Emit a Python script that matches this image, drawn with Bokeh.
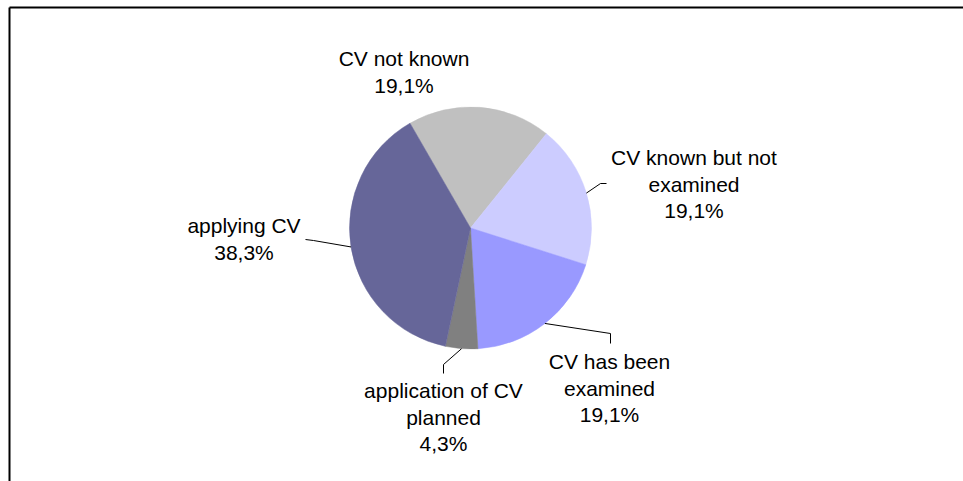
import math
from bokeh.plotting import figure
from bokeh.models import Range1d, ColumnDataSource
from bokeh.embed import file_html
from bokeh.resources import INLINE
from bokeh.core.properties import value

# ---- data ----
categories = ["CV not known", "CV known but not\nexamined", "CV has been\nexamined",
              "application of CV\nplanned", "applying CV"]
shares = [19.1, 19.1, 19.1, 4.3, 38.3]
colors = ["#C0C0C0", "#CCCCFF", "#9999FF", "#808080", "#666699"]

# ---- layout (screen pixels of the page) ----
PAGE_W, PAGE_H = 963, 481
cx, cy, R = 470.0, 227.5, 121.0
first_angle = -30.0  # degrees clockwise from 12 o'clock
label_pos = [(403.5, 58), (693.5, 157), (609, 361), (443, 390), (243.5, 225)]
leader_pts = [None, [(600, 183), (606, 183)], [(610, 333), (610, 343)],
              [(443, 364), (443, 373)], [(313, 240), (305, 239)]]
line_step = 26.5

def Y(y):
    return PAGE_H - y

p = figure(width=PAGE_W, height=PAGE_H, x_range=Range1d(0, PAGE_W), y_range=Range1d(0, PAGE_H),
           output_backend="svg", toolbar_location=None, min_border=0)
p.axis.visible = False
p.xgrid.visible = False
p.ygrid.visible = False
p.outline_line_color = None
p.background_fill_color = "white"
p.border_fill_color = "white"

total = sum(shares)
starts, ends, mids = [], [], []
acc = first_angle
for s in shares:
    a0 = acc
    a1 = acc + s / total * 360.0
    starts.append(math.radians(90 - a0))
    ends.append(math.radians(90 - a1))
    mids.append((a0 + a1) / 2)
    acc = a1

src = ColumnDataSource(dict(start=starts, end=ends, color=colors,
                            x=[cx] * len(shares), y=[Y(cy)] * len(shares)))
p.wedge(x="x", y="y", radius=R, start_angle="start", end_angle="end", direction="clock",
        fill_color="color", line_color="color", line_width=0.5, source=src)

# leader lines
for m, pts in zip(mids, leader_pts):
    if pts is None:
        continue
    sx = cx + R * math.sin(math.radians(m))
    sy = cy - R * math.cos(math.radians(m))
    xs = [sx] + [q[0] for q in pts]
    ys = [Y(sy)] + [Y(q[1]) for q in pts]
    p.line(xs, ys, line_color="#000000", line_width=1)

# labels
tx, ty, tt = [], [], []
for cat, sh, (lx, ly) in zip(categories, shares, label_pos):
    lines = cat.split("\n") + [("%.1f" % sh).replace(".", ",") + "%"]
    for i, ln in enumerate(lines):
        tx.append(lx)
        ty.append(Y(ly + i * line_step))
        tt.append(ln)
p.text(x=tx, y=ty, text=tt, text_align="center", text_baseline="alphabetic",
       text_font=value("Liberation Sans"), text_font_size="21px", text_color="#000000")

# chart frame (top and left edges visible)
p.line([9, 9], [Y(481), Y(7)], line_color="#000000", line_width=2)
p.line([9, 963], [Y(7), Y(7)], line_color="#000000", line_width=2)

open("out.html", "w").write(file_html(p, INLINE))
